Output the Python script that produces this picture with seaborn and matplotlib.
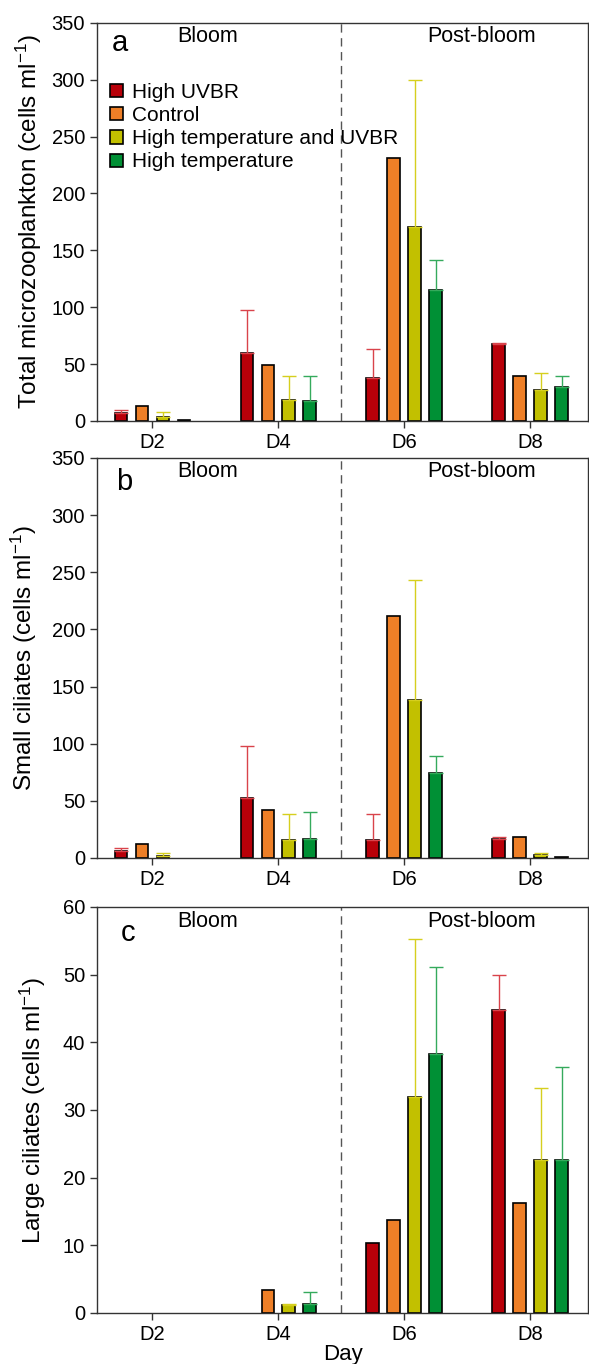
import matplotlib

matplotlib.use('Agg')
import matplotlib.pyplot as plt
import seaborn as sns
import pandas as pd
import numpy as np

# --- data ---
days = ["D2", "D4", "D6", "D8"]
treatments = ["High UVBR", "Control", "High temperature and UVBR", "High temperature"]
bar_colors = ["#b80009", "#ee7f27", "#c2c000", "#009035"]
err_colors = ["#d9434b", "#ee7f27", "#d6cf1e", "#35aa5c"]

# panel a: total microzooplankton (mean, upper end of error bar)
total_mean = {
    "High UVBR": [6.7, 60.0, 38.0, 67.4],
    "Control": [13.5, 49.2, 231.4, 39.5],
    "High temperature and UVBR": [3.5, 18.7, 170.5, 27.5],
    "High temperature": [0.5, 17.9, 115.0, 29.6],
}
total_upper = {
    "High UVBR": [9.7, 97.5, 63.0, 68.5],
    "Control": [np.nan, np.nan, np.nan, np.nan],
    "High temperature and UVBR": [7.6, 39.8, 299.6, 41.9],
    "High temperature": [np.nan, 39.8, 141.2, 39.2],
}

# panel b: small ciliates
small_mean = {
    "High UVBR": [6.1, 52.8, 15.7, 16.6],
    "Control": [12.2, 42.0, 211.6, 18.1],
    "High temperature and UVBR": [2.0, 15.7, 137.9, 2.3],
    "High temperature": [0.0, 16.6, 74.3, 0.9],
}
small_upper = {
    "High UVBR": [9.0, 97.9, 38.2, 18.7],
    "Control": [np.nan, np.nan, np.nan, np.nan],
    "High temperature and UVBR": [4.7, 38.2, 242.8, 4.4],
    "High temperature": [np.nan, 40.2, 89.2, np.nan],
}

# panel c: large ciliates
large_mean = {
    "High UVBR": [0.0, 0.0, 10.3, 44.7],
    "Control": [0.0, 3.4, 13.7, 16.2],
    "High temperature and UVBR": [0.0, 1.2, 31.9, 22.6],
    "High temperature": [0.0, 1.3, 38.3, 22.6],
}
large_upper = {
    "High UVBR": [np.nan, np.nan, np.nan, 50.0],
    "Control": [np.nan, np.nan, np.nan, np.nan],
    "High temperature and UVBR": [np.nan, 1.4, 55.2, 33.3],
    "High temperature": [np.nan, 3.1, 51.1, 36.3],
}

panel_letters = ["a", "b", "c"]
y_labels = [
    "Total microzooplankton (cells ml$^{-1}$)",
    "Small ciliates (cells ml$^{-1}$)",
    "Large ciliates (cells ml$^{-1}$)",
]
y_max = [350, 350, 60]
y_step = [50, 50, 10]


def to_frame(means):
    rows = []
    for t in treatments:
        for d, v in zip(days, means[t]):
            rows.append({"day": d, "treatment": t, "value": v})
    return pd.DataFrame(rows)


sns.set_theme(style="ticks")
plt.rcParams['font.family'] = ['Liberation Sans', 'DejaVu Sans']
plt.rcParams['mathtext.default'] = 'regular'
plt.rcParams['axes.edgecolor'] = '#333333'
plt.rcParams['text.color'] = 'black'
plt.rcParams['axes.labelcolor'] = 'black'
plt.rcParams['xtick.labelcolor'] = 'black'
plt.rcParams['ytick.labelcolor'] = 'black'

fig = plt.figure(figsize=(5.89, 13.64), dpi=100)
positions = [
    [0.1647, 0.6914, 0.8336, 0.2918],
    [0.1647, 0.3710, 0.8336, 0.2933],
    [0.1647, 0.0374, 0.8336, 0.2977],
]
panels = [(total_mean, total_upper), (small_mean, small_upper), (large_mean, large_upper)]
label_x = [-0.108, -0.118, -0.10]
letter_pos = [(0.047, 0.95), (0.056, 0.94), (0.063, 0.936)]

for i, (means, uppers) in enumerate(panels):
    ax = fig.add_axes(positions[i])
    df = to_frame(means)
    sns.barplot(
        data=df, x="day", y="value", hue="treatment",
        order=days, hue_order=treatments, palette=bar_colors,
        width=0.667, gap=0.4, edgecolor="black", linewidth=1.2,
        errorbar=None, saturation=1, legend=(i == 0), ax=ax,
    )
    bar_containers = list(ax.containers)

    # one-sided error bars on top of the bars
    for k, container in enumerate(bar_containers):
        t = treatments[k]
        for b in container.patches:
            if b.get_height() == 0:
                b.set_visible(False)
        xs = np.array([b.get_x() + b.get_width() / 2 for b in container.patches])
        ys = np.array([b.get_height() for b in container.patches])
        up = np.array(uppers[t])
        mask = ~np.isnan(up)
        if mask.any():
            err = up[mask] - ys[mask]
            ax.errorbar(
                xs[mask], ys[mask], yerr=[np.zeros_like(err), err],
                fmt="none", ecolor=err_colors[k], elinewidth=1.0,
                capsize=4.7, capthick=1.0, zorder=1,
            )

    ax.axvline(1.5, color="#555555", linestyle=(0, (6, 4)), linewidth=1.0)
    ax.set_xlim(-0.44, 3.46)
    ax.set_ylim(0, y_max[i])
    ax.set_yticks(np.arange(0, y_max[i] + 1, y_step[i]))
    ax.tick_params(axis="both", labelsize=14.5, length=5, width=1, color="#333333")
    for side in ["top", "right", "left", "bottom"]:
        ax.spines[side].set_visible(True)
        ax.spines[side].set_linewidth(1.0)

    ax.set_ylabel(y_labels[i], fontsize=17.5)
    ax.yaxis.set_label_coords(label_x[i], 0.5)
    if i == 2:
        ax.set_xlabel("Day", fontsize=16, labelpad=0)
    else:
        ax.set_xlabel("")

    ax.text(letter_pos[i][0], letter_pos[i][1], panel_letters[i],
            transform=ax.transAxes, fontsize=21, ha="center", va="center")
    ax.text(0.226, 0.965, "Bloom", transform=ax.transAxes, fontsize=15.5,
            ha="center", va="center")
    ax.text(0.784, 0.965, "Post-bloom", transform=ax.transAxes, fontsize=15.5,
            ha="center", va="center")

    if i == 0:
        ax.legend(
            loc="upper left", bbox_to_anchor=(0.01, 0.87), frameon=False,
            fontsize=15, handlelength=0.6, handleheight=0.6,
            handletextpad=0.45, labelspacing=0.2, borderaxespad=0,
        )

plt.savefig("out.png", dpi=100)
plt.close()
